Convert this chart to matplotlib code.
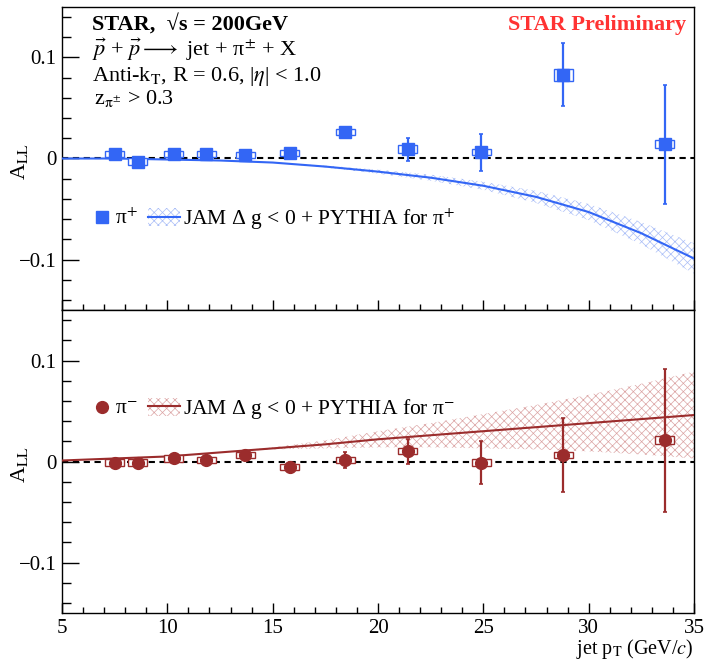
import matplotlib
matplotlib.use("Agg")
import matplotlib.pyplot as plt
import numpy as np
from matplotlib.lines import Line2D
from matplotlib.patches import Patch, Rectangle
from matplotlib.ticker import MultipleLocator, FixedLocator

plt.rcParams["font.family"] = ["Liberation Serif", "DejaVu Serif"]
plt.rcParams["mathtext.fontset"] = "stix"
plt.rcParams["hatch.linewidth"] = 0.5

# ---- measured asymmetries (jet pT in GeV/c) ----
pt_bins = [7.5, 8.6, 10.3, 11.85, 13.7, 15.8, 18.45, 21.4, 24.9, 28.8, 33.6]

all_plus = [0.004, -0.003, 0.004, 0.004, 0.003, 0.005, 0.026, 0.009, 0.006, 0.083, 0.014]
stat_plus = [0.003, 0.004, 0.003, 0.003, 0.003, 0.003, 0.005, 0.011, 0.018, 0.031, 0.059]
sys_plus = [0.003, 0.003, 0.003, 0.003, 0.003, 0.003, 0.003, 0.004, 0.003, 0.006, 0.004]

all_minus = [-0.001, -0.001, 0.003, 0.0015, 0.006, -0.005, 0.0015, 0.010, -0.001, 0.0065, 0.021]
stat_minus = [0.003, 0.003, 0.004, 0.004, 0.004, 0.005, 0.0075, 0.0125, 0.021, 0.037, 0.071]
sys_minus = [0.003, 0.003, 0.003, 0.003, 0.003, 0.003, 0.003, 0.003, 0.003, 0.0033, 0.004]

# ---- JAM (Delta g < 0) + PYTHIA predictions ----
theory_pt = [5.0, 7.5, 10.0, 12.5, 15.0, 17.5, 20.0, 22.5, 25.0, 27.5, 30.0, 32.5, 35.0]
jam_plus = [0.0, 0.0, -0.001, -0.002, -0.004, -0.008, -0.013, -0.019, -0.027,
            -0.038, -0.053, -0.074, -0.099]
jam_plus_unc = [0.0, 0.0, 0.0, 0.0, 0.0, 0.001, 0.002, 0.003, 0.004, 0.006, 0.008, 0.011, 0.015]
jam_minus = [0.001, 0.003, 0.005, 0.009, 0.013, 0.017, 0.022, 0.026, 0.030,
             0.034, 0.038, 0.042, 0.046]
jam_minus_unc = [0.0, 0.0, 0.0, 0.0, 0.001, 0.004, 0.008, 0.012, 0.017, 0.022, 0.028, 0.035, 0.043]

y_ticks = [-0.1, 0.0, 0.1]
x_ticks = [5, 10, 15, 20, 25, 30, 35]

BLUE = "#3366f5"
BLUE_HATCH = "#a9bdf7"
RED = "#9b2c2c"
RED_HATCH = "#dba3a3"
FS = 15.5
TICK_FS = 15
BOX_HALF_W = 0.45

fig = plt.figure(figsize=(7.04, 6.6), dpi=100)
ax_top = fig.add_axes([0.0881, 0.5303, 0.8977, 0.4591])
ax_bot = fig.add_axes([0.0881, 0.0712, 0.8977, 0.4591], sharex=ax_top)


def style_axes(ax):
    ax.set_xlim(5, 35)
    ax.set_ylim(-0.15, 0.15)
    ax.xaxis.set_major_locator(FixedLocator(x_ticks))
    ax.xaxis.set_minor_locator(MultipleLocator(1))
    ax.yaxis.set_major_locator(FixedLocator(y_ticks))
    ax.yaxis.set_minor_locator(MultipleLocator(0.02))
    ax.yaxis.set_major_formatter(plt.FuncFormatter(
        lambda v, p: "0" if abs(v) < 1e-9 else f"{v:g}".replace("-", "\u2212")))
    ax.tick_params(axis="both", which="both", direction="in",
                   top=False, right=False, labelsize=TICK_FS, width=1.0)
    ax.tick_params(axis="y", which="major", length=12, pad=4)
    ax.tick_params(axis="y", which="minor", length=6.5)
    ax.tick_params(axis="x", which="major", length=7.5, pad=4)
    ax.tick_params(axis="x", which="minor", length=4)
    for sp in ax.spines.values():
        sp.set_linewidth(1.0)
    ax.axhline(0, color="black", lw=1.5, ls=(0, (3, 2.2)), zorder=2)
    ax.set_ylabel(r"A$_{\mathrm{LL}}$", fontsize=FS + 0.5)
    ax.yaxis.set_label_coords(-0.05, 0.49)


def draw_data(ax, y, stat, sys_, color, marker):
    ax.errorbar(pt_bins, y, yerr=stat, fmt="none", ecolor=color,
                elinewidth=1.6, capsize=1.6, capthick=1.2, zorder=4)
    for xi, yi, si in zip(pt_bins, y, sys_):
        ax.add_patch(Rectangle((xi - BOX_HALF_W, yi - si), 2 * BOX_HALF_W, 2 * si,
                               facecolor="white", edgecolor=color, lw=1.0, zorder=5))
    ax.plot(pt_bins, y, ls="none", marker=marker, ms=8.5, color=color,
            mec=color, zorder=6)


def draw_theory(ax, cen, unc, color, hatch_color):
    cen = np.asarray(cen)
    unc = np.asarray(unc)
    ax.fill_between(theory_pt, cen - unc, cen + unc, facecolor="none",
                    edgecolor=hatch_color, hatch="xxxx", linewidth=0, zorder=1)
    ax.plot(theory_pt, cen, color=color, lw=1.5, zorder=3)


def draw_legend(ax, ypos, color, marker, hatch_color, sign):
    h_data = Line2D([], [], ls="none", marker=marker, ms=8.5, color=color)
    leg1 = ax.legend([h_data], [r"π$^{%s}$" % sign], loc="center left",
                     bbox_to_anchor=(0.053, ypos), frameon=False, fontsize=FS,
                     handlelength=0.6, handletextpad=0.3, borderpad=0,
                     borderaxespad=0)
    ax.add_artist(leg1)
    h_band = (Patch(facecolor="none", edgecolor=hatch_color, hatch="xxxx", lw=0),
              Line2D([], [], color=color, lw=1.5))
    ax.legend([h_band], [r"JAM Δ g < 0 + PYTHIA for π$^{%s}$" % sign],
              loc="center left", bbox_to_anchor=(0.136, ypos), frameon=False,
              fontsize=FS, handlelength=1.5, handleheight=0.9,
              handletextpad=0.15, borderpad=0, borderaxespad=0)


for ax in (ax_top, ax_bot):
    style_axes(ax)
ax_top.tick_params(labelbottom=False)

# pi+ panel
draw_theory(ax_top, jam_plus, jam_plus_unc, BLUE, BLUE_HATCH)
draw_data(ax_top, all_plus, stat_plus, sys_plus, BLUE, "s")
draw_legend(ax_top, 0.300, BLUE, "s", BLUE_HATCH, "+")

# pi- panel
draw_theory(ax_bot, jam_minus, jam_minus_unc, RED, RED_HATCH)
draw_data(ax_bot, all_minus, stat_minus, sys_minus, RED, "o")
draw_legend(ax_bot, 0.673, RED, "o", RED_HATCH, "-")

# header text
HFS = 16
ax_top.text(0.0475, 0.921, "STAR,  √s = 200GeV", transform=ax_top.transAxes,
            fontsize=HFS, fontweight="bold", va="baseline")
ax_top.text(0.0475, 0.838, r"$\vec{p}$ + $\vec{p}$$\longrightarrow$ jet + π$^{\pm}$ + X",
            transform=ax_top.transAxes, fontsize=HFS, va="baseline")
ax_top.text(0.0475, 0.756, r"Anti-k$_{\mathrm{T}}$, R = 0.6, |$\eta$| < 1.0",
            transform=ax_top.transAxes, fontsize=HFS, va="baseline")
ax_top.text(0.050, 0.680, r"z$_{\mathrm{π}^{\pm}}$ > 0.3",
            transform=ax_top.transAxes, fontsize=HFS, va="baseline")
ax_top.text(0.987, 0.924, "STAR Preliminary", transform=ax_top.transAxes,
            fontsize=HFS, fontweight="bold", color="#ff3333", ha="right",
            va="baseline")

ax_bot.set_xlabel(r"jet p$_{\mathrm{T}}$ (GeV/$c$)", fontsize=14.5, loc="right")
ax_bot.xaxis.set_label_coords(1.0, -0.08)

fig.savefig("out.png", dpi=100)
